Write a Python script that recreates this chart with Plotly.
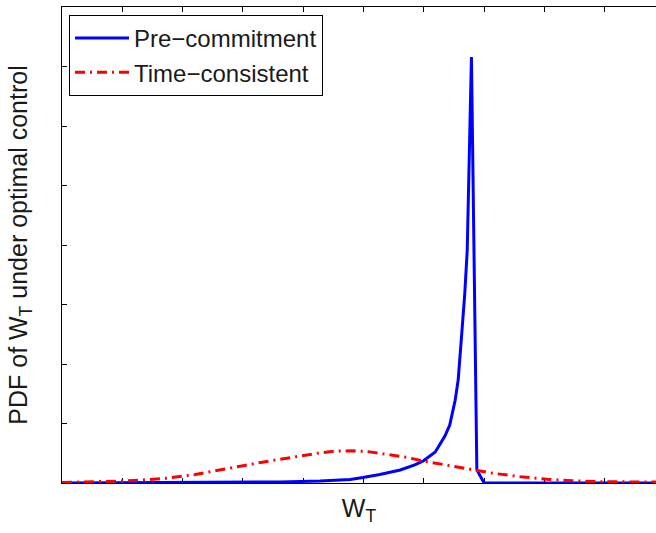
import plotly.graph_objects as go

# Pre-commitment PDF (blue, solid)
pre_x = [0.0, 2.29, 3.62, 4.28, 4.78, 4.99, 5.27, 5.61, 5.85, 5.99, 6.19, 6.35, 6.43,
         6.52, 6.57, 6.63, 6.68, 6.72, 6.79, 6.88, 7.00, 9.85]
pre_y = [0.0, 0.008, 0.017, 0.034, 0.059, 0.092, 0.143, 0.218, 0.303, 0.370, 0.521, 0.790,
         0.975, 1.39, 1.73, 2.52, 3.19, 3.91, 7.16, 0.22, 0.0, 0.0]

# Time-consistent PDF (red, dash-dot)
tc_x = [0.0, 0.50, 1.00, 1.33, 1.77, 2.21, 2.54, 2.98, 3.32, 3.76, 4.09, 4.30, 4.53, 4.83,
        5.05, 5.27, 5.72, 5.99, 6.38, 6.82, 7.15, 7.60, 8.04, 8.47, 8.92, 9.85]
tc_y = [0.008, 0.017, 0.034, 0.050, 0.084, 0.143, 0.20, 0.286, 0.35, 0.42, 0.48, 0.51,
        0.535, 0.54, 0.53, 0.50, 0.43, 0.37, 0.30, 0.22, 0.163, 0.106, 0.062, 0.039,
        0.022, 0.015]

x_ticks = list(range(0, 10))
y_ticks = list(range(0, 9))

FONT = "Liberation Sans, Arial, Helvetica, sans-serif"
TXT = "#1a1a1a"

fig = go.Figure()
fig.add_trace(go.Scatter(x=pre_x, y=pre_y, mode="lines", name="Pre\u2212commitment",
                         line=dict(color="#0000FF", width=3)))
fig.add_trace(go.Scatter(x=tc_x, y=tc_y, mode="lines", name="Time\u2212consistent",
                         line=dict(color="#FF0000", width=3, dash="10px,5px,2px,5px")))

fig.update_layout(
    width=656, height=533,
    margin=dict(l=62, r=0, t=7, b=50),
    paper_bgcolor="white", plot_bgcolor="white",
    font=dict(family=FONT, size=24, color=TXT),
    showlegend=True,
    legend=dict(x=7/594, y=1 - 8/476, xanchor="left", yanchor="top",
                bordercolor="black", borderwidth=1, bgcolor="white",
                font=dict(size=24, family=FONT, color=TXT),
                tracegroupgap=0, itemwidth=54),
    xaxis=dict(range=[0, 594/60.3], tickvals=x_ticks, showticklabels=False,
               ticks="inside", ticklen=5, tickcolor="black", tickwidth=1,
               showline=True, linecolor="black", linewidth=1, mirror="ticks",
               showgrid=False, zeroline=False, layer="below traces",
               title=dict(text="W<sub>T</sub>", font=dict(size=25, family=FONT, color=TXT),
                          standoff=16)),
    yaxis=dict(range=[0, 8], tickvals=y_ticks, showticklabels=False,
               ticks="inside", ticklen=5, tickcolor="black", tickwidth=1,
               showline=True, linecolor="black", linewidth=1,
               showgrid=False, zeroline=False, layer="below traces",
               title=dict(text="PDF of W<sub>T</sub> under optimal control",
                          font=dict(size=25, family=FONT, color=TXT), standoff=26)),
)

fig.write_html("out.html", config={"displayModeBar": False},
               post_script="document.body.style.margin='0';")
